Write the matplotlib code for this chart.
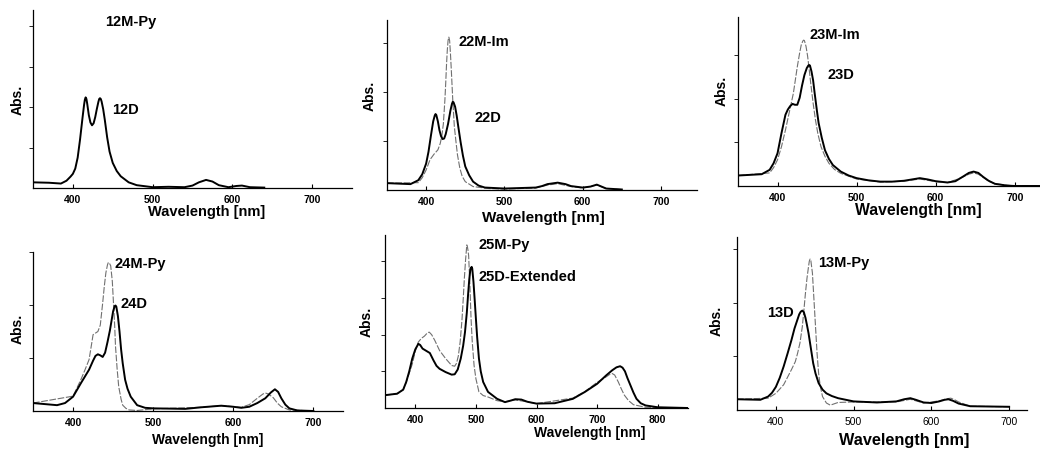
import matplotlib.pyplot as plt

plt.rcParams["font.family"] = ["Liberation Sans", "DejaVu Sans"]
plt.rcParams["font.weight"] = "bold"

# ---- data (absorbance in arbitrary units) ----
wl_12d = [350, 370, 385, 392, 397, 400, 403, 406, 409, 412,
          414, 415, 416, 417, 418, 420, 422, 424, 426, 428,
          430, 432, 433, 434, 435, 436, 438, 440, 443, 446,
          450, 455, 460, 470, 480, 500, 520, 540, 550, 558,
          567, 575, 583, 595, 605, 612, 622, 640]
abs_12d = [0.14, 0.13, 0.11, 0.18, 0.28, 0.35, 0.48, 0.75, 1.2, 1.72,
           2.05, 2.18, 2.24, 2.2, 2.08, 1.8, 1.62, 1.55, 1.6, 1.75,
           1.95, 2.13, 2.2, 2.22, 2.2, 2.14, 1.95, 1.69, 1.25, 0.9,
           0.62, 0.42, 0.29, 0.14, 0.07, 0.02, 0.03, 0.02, 0.06, 0.14,
           0.2, 0.16, 0.07, 0.02, 0.05, 0.06, 0.02, 0.01]

wl_22d = [350, 380, 390, 395, 400, 403, 406, 409, 411, 412,
          413, 415, 417, 419, 421, 423, 425, 428, 431, 433,
          434, 435, 437, 439, 441, 444, 447, 450, 455, 460,
          467, 475, 500, 540, 548, 555, 568, 578, 585, 600,
          610, 618, 624, 630, 650]
abs_22d = [0.14, 0.12, 0.2, 0.32, 0.54, 0.78, 1.1, 1.4, 1.52, 1.55,
           1.53, 1.4, 1.22, 1.1, 1.04, 1.05, 1.14, 1.35, 1.62, 1.76,
           1.8, 1.79, 1.7, 1.52, 1.3, 0.98, 0.7, 0.48, 0.3, 0.17,
           0.09, 0.05, 0.03, 0.05, 0.08, 0.12, 0.15, 0.12, 0.08, 0.05,
           0.07, 0.11, 0.07, 0.03, 0.01]
wl_22m = [350, 390, 395, 400, 405, 410, 415, 418, 420, 422,
          424, 425, 426, 427, 428, 429, 430, 431, 432, 434,
          436, 438, 440, 443, 446, 450, 460, 480, 500, 540,
          555, 568, 585, 600, 618, 630, 650]
abs_22m = [0.14, 0.15, 0.25, 0.41, 0.62, 0.73, 0.82, 0.95, 1.1, 1.35,
           1.85, 2.18, 2.55, 2.85, 3.05, 3.12, 3.05, 2.8, 2.5, 1.84,
           1.3, 1.0, 0.72, 0.45, 0.28, 0.17, 0.07, 0.03, 0.02, 0.04,
           0.1, 0.13, 0.07, 0.04, 0.1, 0.03, 0.01]

wl_23d = [350, 380, 390, 395, 400, 405, 410, 413, 416, 419,
          422, 425, 428, 431, 434, 437, 439, 440, 441, 443,
          445, 447, 450, 452, 456, 460, 465, 470, 480, 490,
          500, 515, 530, 545, 560, 570, 580, 590, 600, 615,
          625, 635, 642, 648, 654, 660, 667, 675, 690, 700,
          732]
abs_23d = [0.24, 0.27, 0.37, 0.52, 0.75, 1.21, 1.63, 1.75, 1.83, 1.88,
           1.86, 1.86, 2.02, 2.3, 2.54, 2.7, 2.76, 2.77, 2.76, 2.62,
           2.42, 2.12, 1.7, 1.44, 1.1, 0.82, 0.62, 0.48, 0.33, 0.24,
           0.18, 0.13, 0.1, 0.1, 0.12, 0.15, 0.18, 0.15, 0.11, 0.08,
           0.11, 0.22, 0.3, 0.33, 0.3, 0.21, 0.12, 0.05, 0.01, 0.0,
           0.0]
wl_23m = [350, 390, 395, 400, 405, 410, 415, 420, 425, 428,
          430, 432, 433, 434, 436, 438, 440, 442, 445, 448,
          451, 455, 460, 465, 472, 480, 500, 530, 560, 580,
          600, 615, 630, 642, 648, 654, 660, 667, 675, 700,
          732]
abs_23m = [0.24, 0.3, 0.42, 0.6, 0.9, 1.28, 1.7, 2.12, 2.73, 3.05,
           3.23, 3.32, 3.34, 3.33, 3.2, 2.98, 2.68, 2.35, 1.9, 1.51,
           1.2, 0.9, 0.68, 0.52, 0.38, 0.29, 0.16, 0.09, 0.11, 0.16,
           0.1, 0.08, 0.17, 0.27, 0.3, 0.27, 0.2, 0.11, 0.05, 0.0,
           0.0]

wl_24d = [350, 380, 390, 400, 410, 420, 425, 428, 431, 434,
          437, 440, 443, 446, 448, 450, 452, 453, 454, 456,
          458, 460, 462, 465, 468, 472, 480, 490, 500, 540,
          560, 585, 600, 610, 620, 630, 640, 647, 652, 656,
          660, 665, 670, 680, 700]
abs_24d = [0.15, 0.11, 0.15, 0.27, 0.53, 0.78, 0.95, 1.04, 1.07, 1.05,
           1.02, 1.1, 1.3, 1.52, 1.7, 1.88, 1.98, 1.99, 1.97, 1.79,
           1.5, 1.16, 0.9, 0.59, 0.42, 0.27, 0.11, 0.06, 0.05, 0.04,
           0.07, 0.1, 0.08, 0.06, 0.08, 0.15, 0.24, 0.35, 0.41, 0.36,
           0.24, 0.12, 0.05, 0.01, 0.0]
wl_24m = [350, 400, 410, 415, 420, 423, 425, 428, 431, 434,
          437, 439, 441, 443, 444, 445, 447, 449, 450, 452,
          453, 455, 457, 460, 462, 466, 470, 480, 500, 560,
          585, 610, 620, 630, 637, 640, 644, 650, 655, 660,
          670, 700]
abs_24m = [0.15, 0.28, 0.6, 0.78, 0.97, 1.25, 1.44, 1.47, 1.5, 1.62,
           2.04, 2.35, 2.61, 2.76, 2.8, 2.8, 2.74, 2.45, 2.17, 1.6,
           1.22, 0.8, 0.46, 0.22, 0.11, 0.05, 0.02, 0.01, 0.04, 0.07,
           0.1, 0.07, 0.12, 0.24, 0.32, 0.34, 0.32, 0.25, 0.15, 0.08,
           0.02, 0.0]

wl_25d = [350, 370, 380, 385, 390, 395, 400, 405, 408, 412,
          418, 424, 430, 435, 440, 450, 460, 465, 470, 475,
          479, 482, 485, 487, 489, 491, 493, 494, 496, 498,
          500, 502, 505, 508, 512, 520, 535, 548, 557, 565,
          575, 585, 600, 630, 660, 680, 700, 715, 725, 732,
          738, 742, 746, 750, 755, 760, 765, 772, 780, 800,
          850]
abs_25d = [0.35, 0.39, 0.5, 0.71, 1.0, 1.35, 1.6, 1.75, 1.72, 1.62,
           1.56, 1.5, 1.3, 1.15, 1.07, 0.98, 0.91, 0.92, 1.05, 1.35,
           1.7, 2.07, 2.6, 3.07, 3.5, 3.8, 3.85, 3.8, 3.44, 2.95,
           2.44, 1.95, 1.35, 1.0, 0.71, 0.44, 0.25, 0.16, 0.2, 0.24,
           0.23, 0.17, 0.12, 0.13, 0.25, 0.44, 0.66, 0.89, 1.03, 1.11,
           1.14, 1.1, 1.0, 0.82, 0.62, 0.42, 0.25, 0.13, 0.07, 0.02,
           0.0]
wl_25m = [350, 370, 380, 385, 390, 395, 400, 405, 410, 415,
          420, 423, 427, 432, 440, 450, 460, 465, 468, 471,
          474, 477, 479, 481, 483, 485, 486, 487, 488, 490,
          492, 494, 497, 500, 505, 512, 520, 535, 548, 565,
          580, 600, 660, 680, 700, 715, 722, 725, 729, 735,
          740, 745, 752, 760, 780, 850]
abs_25m = [0.35, 0.39, 0.5, 0.7, 0.95, 1.2, 1.55, 1.8, 1.9, 1.96,
           2.05, 2.07, 2.0, 1.85, 1.57, 1.35, 1.16, 1.14, 1.22, 1.42,
           1.8, 2.4, 2.95, 3.55, 4.05, 4.45, 4.4, 4.3, 4.16, 3.4,
           2.44, 1.8, 1.16, 0.8, 0.44, 0.34, 0.3, 0.2, 0.17, 0.22,
           0.18, 0.12, 0.27, 0.45, 0.7, 0.85, 0.93, 0.94, 0.9, 0.71,
           0.52, 0.35, 0.2, 0.09, 0.02, 0.0]

wl_13d = [350, 380, 390, 395, 400, 405, 410, 415, 420, 424,
          427, 430, 432, 434, 436, 438, 440, 442, 445, 448,
          451, 455, 460, 465, 472, 480, 500, 530, 555, 565,
          573, 580, 590, 600, 610, 617, 622, 628, 635, 650,
          700]
abs_13d = [0.2, 0.19, 0.25, 0.32, 0.43, 0.6, 0.81, 1.05, 1.3, 1.52,
           1.65, 1.78, 1.83, 1.85, 1.82, 1.72, 1.58, 1.43, 1.15, 0.87,
           0.68, 0.5, 0.38, 0.31, 0.26, 0.22, 0.16, 0.14, 0.16, 0.2,
           0.22, 0.19, 0.14, 0.13, 0.16, 0.19, 0.2, 0.17, 0.12, 0.07,
           0.06]
wl_13m = [350, 390, 400, 410, 420, 425, 428, 431, 434, 436,
          438, 440, 442, 443, 444, 445, 447, 449, 451, 453,
          455, 457, 460, 465, 470, 480, 500, 555, 573, 590,
          610, 620, 625, 630, 635, 650, 700]
abs_13m = [0.2, 0.22, 0.31, 0.47, 0.75, 0.9, 1.06, 1.25, 1.55, 1.85,
           2.17, 2.45, 2.67, 2.77, 2.81, 2.78, 2.55, 2.05, 1.55, 1.05,
           0.68, 0.45, 0.25, 0.13, 0.09, 0.14, 0.15, 0.15, 0.2, 0.13,
           0.17, 0.21, 0.22, 0.19, 0.15, 0.07, 0.06]

W, H = 1040, 450
fig = plt.figure(figsize=(W / 100, H / 100), dpi=100)


def panel(box, xlim, ylim, yticks, xticks, solid, dashed, labels, xlab, ylab, xlab_size, tick_weight="bold"):
    # box in pixels: left, top, right, bottom
    left, top, right, bottom = box
    ax = fig.add_axes([left / W, 1 - bottom / H, (right - left) / W, (bottom - top) / H])
    if dashed is not None:
        ax.plot(*dashed, color="#707070", lw=0.8, dashes=(6, 1.5))
    ax.plot(*solid, color="black", lw=1.4, solid_joinstyle="round")
    ax.set_xlim(*xlim)
    ax.set_ylim(*ylim)
    ax.set_xticks(xticks)
    ax.set_yticks(yticks)
    ax.set_yticklabels([])
    for s in ("top", "right"):
        ax.spines[s].set_visible(False)
    for s in ("left", "bottom"):
        ax.spines[s].set_linewidth(0.9)
    ax.tick_params(axis="x", direction="in", length=3, width=0.8, labelsize=7.5, pad=5)
    ax.tick_params(axis="y", direction="out", length=3, width=0.6)
    for t in ax.get_xticklabels():
        t.set_fontweight(tick_weight)
    for text, x, y in labels:
        ax.text(x, y, text, fontsize=10.5, fontweight="bold", ha="left", va="center")
    ax.set_xlabel("Wavelength [nm]", fontsize=xlab_size, fontweight="bold")
    ax.xaxis.set_label_coords((xlab[0] - left) / (right - left), (bottom - xlab[1]) / (bottom - top))
    ax.xaxis.label.set_va("center")
    ax.set_ylabel("Abs.", fontsize=10, fontweight="bold")
    ax.yaxis.set_label_coords((ylab[0] - left) / (right - left), (bottom - ylab[1]) / (bottom - top))
    ax.yaxis.label.set_va("center")
    return ax


panel((33, 10, 352, 188), (350, 750), (0, 4.4), [1, 2, 3, 4], [400, 500, 600, 700],
      (wl_12d, abs_12d), None,
      [("12M-Py", 440, 4.1), ("12D", 449, 1.93)], (207, 212), (18, 100), 10.5)

panel((387, 20, 697, 190), (350, 746), (0, 3.47), [1, 2, 3], [400, 500, 600, 700],
      (wl_22d, abs_22d), (wl_22m, abs_22m),
      [("22M-Im", 441, 3.02), ("22D", 462, 1.47)], (543, 218), (370, 96), 11)

panel((738, 17, 1040, 186), (350, 732), (0, 3.87), [1, 2, 3], [400, 500, 600, 700],
      (wl_23d, abs_23d), (wl_23m, abs_23m),
      [("23M-Im", 441, 3.46), ("23D", 463, 2.54)], (918, 210), (722, 91), 11.3)

panel((33, 252, 343, 411), (350, 737), (0, 3.0), [1, 2, 3], [400, 500, 600, 700],
      (wl_24d, abs_24d), (wl_24m, abs_24m),
      [("24M-Py", 452, 2.77), ("24D", 459, 2.01)], (208, 440), (18, 329), 10)

panel((385, 235, 688, 408), (350, 850), (0, 4.72), [1, 2, 3, 4], [400, 500, 600, 700, 800],
      (wl_25d, abs_25d), (wl_25m, abs_25m),
      [("25M-Py", 504, 4.44), ("25D-Extended", 504, 3.57)], (590, 433), (367, 322), 10)

panel((737, 237, 1027, 410), (350, 723), (0, 3.22), [1, 2, 3], [400, 500, 600, 700],
      (wl_13d, abs_13d), (wl_13m, abs_13m),
      [("13M-Py", 454, 2.74), ("13D", 389, 1.81)], (904, 440), (717, 321), 11.7, tick_weight="normal")

fig.savefig("out.png", dpi=100)
